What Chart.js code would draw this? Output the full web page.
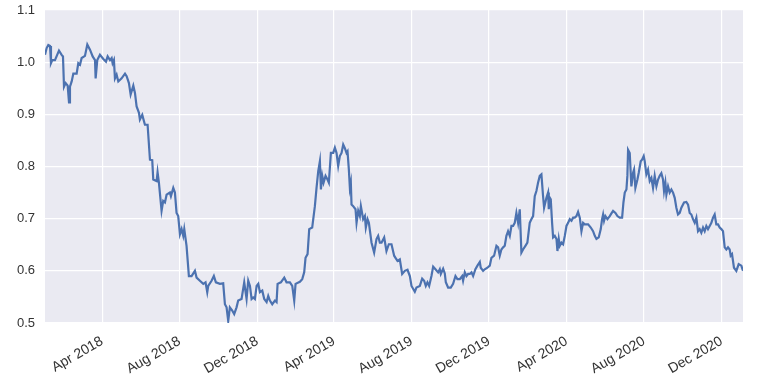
<!DOCTYPE html>
<html>
<head>
<meta charset="utf-8">
<script src="https://cdn.jsdelivr.net/npm/chart.js@4.4.0/dist/chart.umd.min.js"></script>
<style>
  body { margin: 0; background: #fff; }
</style>
</head>
<body>
<canvas id="ratio" width="757" height="375"></canvas>
<script>
// days since 2018-01-01
const days = [
  0, 2.6, 5.2, 7.9, 9.4, 11.5, 15.7, 22.0, 26.2, 28.3, 29.9, 32.5, 35.7, 37.8, 39.3, 42.0, 44.6, 49.8, 52.4, 55.1,
  57.7, 62.9, 66.6, 70.8, 75.0, 78.7, 79.7, 82.3, 86.5, 91.8, 96.0, 98.6, 102.3, 104.9, 106.4, 108.5, 110.1, 112.7, 115.4, 120.6,
  125.9, 128.5, 132.1, 134.8, 139.0, 141.6, 144.2, 147.9, 149.4, 153.1, 157.3,
  161.5, 165.2, 168.8, 170.4, 175.7, 177.2, 179.3, 183.5, 186.1, 188.8, 191.4, 196.6, 198.2, 201.9, 204.5, 207.1, 209.7, 212.4, 215.0,
  217.6, 219.2, 222.8, 226.5, 230.7, 236.0, 238.6, 243.8, 249.1, 252.7, 255.4, 256.9, 262.2, 265.8, 269.0, 275.3, 280.5, 283.2, 285.8, 288.4,
  291.0, 294.7, 297.8, 301.5, 304.1, 309.4, 313.6,
  317.3, 319.9, 322.6, 325.2, 327.8, 330.4, 333.1, 335.7, 338.3, 342.0, 345.1, 348.8, 351.4, 354.0, 357.7, 361.9, 364.5, 366.1, 371.3, 376.6,
  380.2, 385.5, 389.2, 392.3, 394.4, 401.2, 404.9, 408.0, 410.1, 413.3, 415.9, 420.6, 424.8, 427.4, 430.1, 432.7, 434.3, 436.4, 438.5, 441.6,
  444.7, 446.8, 450.0, 453.7, 456.3, 458.9, 461.5, 464.1, 466.8, 469.4, 472.0,
  474.6, 476.2, 478.3, 479.9, 481.4, 482.5, 485.1, 488.8, 490.4, 493.0, 495.6, 497.2, 500.8, 503.5, 505.0, 507.7, 509.8, 514.0, 518.1, 521.8,
  524.4, 527.1, 529.7, 533.9, 537.5, 541.2, 545.4, 549.6, 551.7, 554.9, 558.5, 562.2, 566.4, 570.6, 574.3, 576.9, 582.1, 584.7, 590.0, 593.7,
  596.8, 599.4, 602.0, 604.7, 608.3, 611.0, 614.6, 618.8, 621.4, 623.0, 626.7, 629.3,
  630.9, 634.5, 638.7, 642.4, 646.1, 649.2, 652.9, 656.6, 658.1, 660.8, 663.4, 666.0, 668.6, 671.3, 673.9, 677.5, 680.7, 684.4, 685.9, 689.6,
  692.2, 696.4, 700.1, 702.7, 706.9, 710.6, 713.2, 715.8, 718.4, 721.1, 723.7, 726.3, 728.9, 731.6, 734.2, 736.8, 739.4, 742.0, 744.7, 747.3,
  749.9, 752.5, 756.2, 759.3, 763.0, 765.6, 768.3, 770.9, 773.5, 776.1, 778.8, 781.4, 784.0, 785.6,
  789.3, 791.9, 793.0, 794.6, 796.1, 798.2, 799.8, 802.4, 805.1, 806.6, 808.7, 810.3, 812.9, 815.5, 818.2, 820.8, 823.4, 826.0, 828.7, 831.3,
  833.9, 836.5, 839.1, 841.8, 844.4, 847.0, 849.6, 854.9, 859.1, 862.7, 865.4, 868.0, 871.6, 874.8, 876.9, 878.5, 880.0, 882.1, 885.3, 889.0,
  891.6, 894.2, 897.9, 901.0, 904.7, 908.4, 910.5, 912.6, 915.2, 916.7, 917.8, 920.4, 923.0, 925.7, 927.2, 929.3, 932.5, 934.6, 937.7, 939.8,
  942.4, 944.0,
  946.6, 949.2, 951.9, 954.5, 957.1, 959.7, 962.4, 965.0, 967.6, 970.2, 972.8, 974.4, 976.5, 978.1, 980.7, 983.3, 986.0, 988.6, 991.2, 993.8,
  996.4, 999.1, 1001.7, 1005.9, 1009.5, 1012.2, 1014.8, 1017.4, 1020.0, 1022.7, 1025.3, 1027.9, 1030.5, 1033.1, 1035.8, 1038.4, 1041.0, 1043.6, 1046.3, 1048.9,
  1051.5, 1054.1, 1056.7, 1059.4, 1062.0, 1064.6, 1067.2, 1069.9, 1072.5, 1075.1, 1077.7, 1079.3, 1081.4, 1084.5, 1088.2, 1091.9, 1096.1, 1098.7
];

const ratio = [
  1.014, 1.027, 1.033, 1.031, 0.998, 1.004, 1.004, 1.022, 1.014, 1.011, 0.953, 0.960, 0.955, 0.923, 0.953, 0.963, 0.978, 0.978, 0.998, 0.995,
  1.008, 1.012, 1.034, 1.024, 1.011, 1.004, 0.969, 1.004, 1.014, 1.006, 1.001, 1.011, 1.004, 1.008, 0.998, 1.004, 0.969, 0.976, 0.963, 0.969,
  0.978, 0.973, 0.960, 0.938, 0.955, 0.941, 0.915, 0.903, 0.890, 0.899, 0.880,
  0.880, 0.813, 0.812, 0.775, 0.772, 0.789, 0.769, 0.715, 0.734, 0.731, 0.746, 0.750, 0.743, 0.759, 0.750, 0.711, 0.705, 0.670, 0.680,
  0.667, 0.680, 0.648, 0.590, 0.590, 0.600, 0.587, 0.581, 0.575, 0.578, 0.559, 0.571, 0.581, 0.590, 0.578, 0.575, 0.576, 0.536, 0.530, 0.504,
  0.530, 0.524, 0.517, 0.530, 0.543, 0.546, 0.578,
  0.546, 0.581, 0.571, 0.546, 0.549, 0.546, 0.571, 0.575, 0.559, 0.562, 0.546, 0.540, 0.552, 0.543, 0.536, 0.543, 0.540, 0.575, 0.578, 0.587,
  0.578, 0.578, 0.571, 0.543, 0.575, 0.579, 0.584, 0.597, 0.625, 0.632, 0.680, 0.683, 0.724, 0.759, 0.791, 0.810, 0.756, 0.782, 0.769, 0.782,
  0.775, 0.769, 0.826, 0.826, 0.836, 0.826, 0.801, 0.820, 0.826, 0.842, 0.835,
  0.826, 0.829, 0.794, 0.759, 0.769, 0.727, 0.724, 0.718, 0.692, 0.715, 0.705, 0.724, 0.699, 0.705, 0.683, 0.699, 0.692, 0.654, 0.635, 0.661,
  0.667, 0.654, 0.654, 0.664, 0.638, 0.651, 0.651, 0.629, 0.625, 0.619, 0.622, 0.594, 0.600, 0.602, 0.590, 0.571, 0.560, 0.568, 0.571, 0.585,
  0.581, 0.571, 0.578, 0.571, 0.590, 0.608, 0.603, 0.597, 0.603, 0.594, 0.604, 0.595,
  0.578, 0.568, 0.568, 0.575, 0.590, 0.584, 0.584, 0.590, 0.581, 0.597, 0.590, 0.594, 0.594, 0.597, 0.590, 0.603, 0.610, 0.617, 0.606, 0.600,
  0.603, 0.606, 0.610, 0.625, 0.629, 0.648, 0.645, 0.629, 0.641, 0.645, 0.648, 0.667, 0.676, 0.667, 0.686, 0.686, 0.692, 0.711, 0.692, 0.718,
  0.635, 0.641, 0.648, 0.654, 0.692, 0.699, 0.705, 0.743, 0.753, 0.769, 0.782, 0.785, 0.743, 0.721,
  0.740, 0.750, 0.718, 0.740, 0.737, 0.692, 0.664, 0.667, 0.661, 0.638, 0.661, 0.648, 0.654, 0.651, 0.667, 0.686, 0.692, 0.699, 0.696, 0.702,
  0.702, 0.705, 0.713, 0.702, 0.676, 0.692, 0.689, 0.689, 0.683, 0.676, 0.667, 0.661, 0.664, 0.680, 0.699, 0.708, 0.696, 0.705, 0.699, 0.705,
  0.710, 0.715, 0.711, 0.705, 0.702, 0.702, 0.731, 0.750, 0.756, 0.782, 0.832, 0.826, 0.762, 0.788, 0.794, 0.759, 0.775, 0.788, 0.810, 0.813,
  0.820, 0.810,
  0.785, 0.794, 0.772, 0.778, 0.759, 0.782, 0.762, 0.775, 0.782, 0.787, 0.775, 0.753, 0.769, 0.746, 0.762, 0.750, 0.756, 0.750, 0.740, 0.721,
  0.708, 0.711, 0.721, 0.731, 0.732, 0.727, 0.711, 0.708, 0.699, 0.692, 0.702, 0.676, 0.680, 0.673, 0.683, 0.676, 0.686, 0.680, 0.686, 0.692,
  0.702, 0.708, 0.689, 0.689, 0.683, 0.680, 0.676, 0.645, 0.641, 0.645, 0.641, 0.629, 0.632, 0.606, 0.600, 0.613, 0.610, 0.600
];

// x tick positions (first day of month) and their labels
const tickDays = [90, 212, 334, 455, 577, 699, 821, 943, 1065];
const tickLabels = ['Apr 2018', 'Aug 2018', 'Dec 2018', 'Apr 2019', 'Aug 2019', 'Dec 2019', 'Apr 2020', 'Aug 2020', 'Dec 2020'];

const yTicks = [0.5, 0.6, 0.7, 0.8, 0.9, 1.0, 1.1];

const plotBg = {
  id: 'plotBg',
  beforeDraw(chart) {
    const { ctx, chartArea: a } = chart;
    ctx.save();
    ctx.fillStyle = '#EAEAF2';
    ctx.fillRect(a.left, a.top, a.right - a.left, a.bottom - a.top);
    ctx.restore();
  }
};

const points = days.map((d, i) => ({ x: d, y: ratio[i] }));

new Chart(document.getElementById('ratio'), {
  type: 'line',
  data: {
    datasets: [{
      data: points,
      borderColor: '#4C72B0',
      borderWidth: 2.2,
      pointRadius: 0,
      tension: 0,
      fill: false
    }]
  },
  options: {
    responsive: false,
    animation: false,
    layout: { padding: { top: 10, right: 14, left: 0, bottom: 0 } },
    plugins: {
      legend: { display: false },
      tooltip: { enabled: false }
    },
    scales: {
      x: {
        type: 'linear',
        min: days[0],
        max: days[days.length - 1],
        afterBuildTicks: s => { s.ticks = tickDays.map(v => ({ value: v })); },
        afterFit: s => { s.height = 52; },
        grid: { color: '#ffffff', lineWidth: 1.2, drawTicks: false },
        border: { display: false },
        ticks: {
          autoSkip: false,
          minRotation: 30,
          maxRotation: 30,
          padding: 10,
          color: '#333333',
          font: { family: 'Liberation Sans', size: 14 },
          callback: v => tickLabels[tickDays.indexOf(v)]
        }
      },
      y: {
        min: 0.5,
        max: 1.1,
        afterBuildTicks: s => { s.ticks = yTicks.map(v => ({ value: v })); },
        afterFit: s => { s.width = 45; s.paddingTop = 0; },
        grid: { color: '#ffffff', lineWidth: 1.2, drawTicks: false },
        border: { display: false },
        ticks: {
          padding: 10,
          color: '#333333',
          font: { family: 'Liberation Sans', size: 13 },
          callback: v => v.toFixed(1)
        }
      }
    }
  },
  plugins: [plotBg]
});
</script>
</body>
</html>
